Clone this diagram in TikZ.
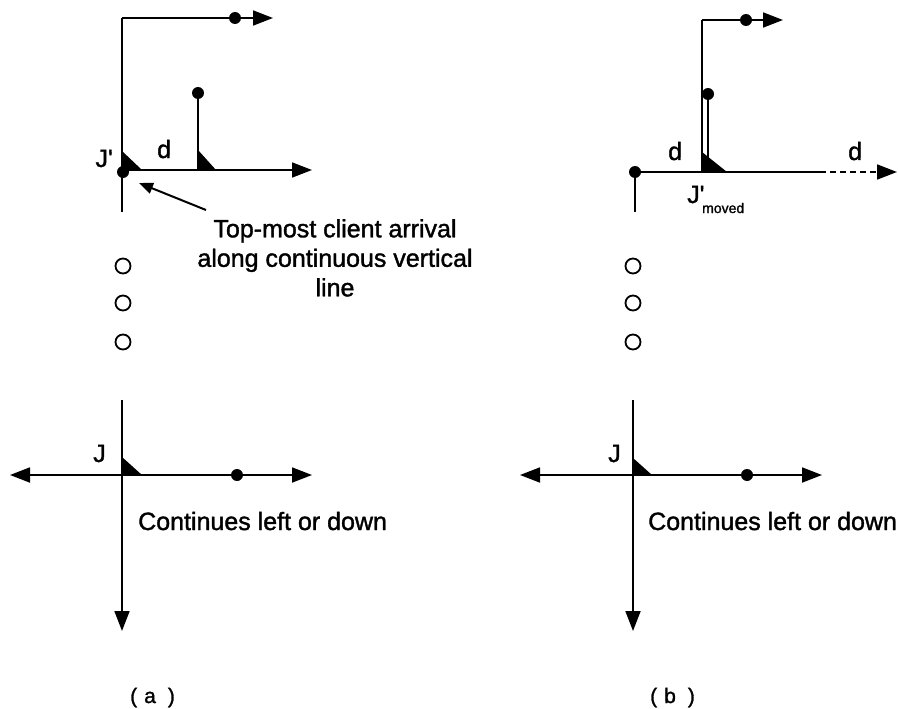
\documentclass[tikz,border=0pt]{standalone}
\usepackage{fontspec}
\setmainfont{Liberation Sans}
\newfontfamily\heavyfont{Liberation Sans}[FakeBold=1.4]
\usetikzlibrary{arrows.meta}
\begin{document}
\begin{tikzpicture}[x=1pt,y=-1pt,
  ln/.style={line width=1.8pt},
  arr/.style={ln,-{Triangle[length=20pt,width=15pt]}},
  darr/.style={ln,{Triangle[length=20pt,width=15pt]}-{Triangle[length=20pt,width=15pt]}},
  pointer/.style={line width=2pt,-{Triangle[length=14pt,width=11pt]}},
  dot/.style={circle,fill=black,inner sep=0pt,minimum size=12pt},
  ring/.style={circle,draw,line width=1.8pt,inner sep=0pt,minimum size=15pt},
  lbl/.style={font=\heavyfont\fontsize{25}{29.5}\selectfont,inner sep=0pt},
  sublbl/.style={font=\heavyfont\fontsize{14}{16}\selectfont,inner sep=0pt},
  captionlbl/.style={font=\heavyfont\fontsize{21}{24}\selectfont,inner sep=0pt},
  marker/.style={fill=black}]
\useasboundingbox (0,0) rectangle (898,709);

% ===================== (a) =====================
\coordinate (aTopL) at (122,18);
\coordinate (aTopR) at (273,18);
\coordinate (aVBot) at (122,212);
\coordinate (aJp) at (122,170);
\coordinate (aHR) at (312,170);
\coordinate (aV2) at (198,170);
\node[dot] (aTopDot) at (235,18) {};
\node[dot] (aV2Dot) at (198,93) {};
\node[dot] (aJpDot) at (123,172) {};

\draw[ln] (aVBot) -- (aTopL);
\draw[arr] (aTopL) -- (aTopR);
\draw[arr] (aJp) -- (aHR);
\draw[ln] (aV2Dot.center) -- (aV2);
\fill[marker] (aJp) -- (122,151) -- (142,170) -- cycle;
\fill[marker] (aV2) -- (198,150) -- (216,170) -- cycle;

\node[lbl,anchor=base east] (aJpLbl) at (113,167) {J'};
\node[lbl,anchor=base west] (aDLbl) at (157,158) {d};

\node[lbl,align=center,anchor=north] (aNote) at (335,219)
  {Top-most client arrival\\along continuous vertical\\line};
\coordinate (aPtrStart) at (206,210);
\draw[pointer] (aPtrStart) -- (139,183);

\node[ring] (aC1) at (123,266) {};
\node[ring] (aC2) at (123,303) {};
\node[ring] (aC3) at (123,342) {};

\coordinate (aBVTop) at (122,400);
\coordinate (aBVBot) at (122,631);
\coordinate (aBL) at (10,475);
\coordinate (aBR) at (312,475);
\coordinate (aJ) at (122,475);
\node[dot] (aBDot) at (237,475) {};
\draw[arr] (aBVTop) -- (aBVBot);
\draw[darr] (aBL) -- (aBR);
\fill[marker] (aJ) -- (122,457) -- (142,475) -- cycle;
\node[lbl,anchor=base west] (aJLbl) at (93,462) {J};
\node[lbl,anchor=base west] (aCont) at (138,530) {Continues left or down};
\node[captionlbl,anchor=base west] (aCap) at (130,703) {(\hspace{7pt}a\hspace{12pt})};

% ===================== (b) =====================
\coordinate (bTopL) at (702,20);
\coordinate (bTopR) at (783,20);
\coordinate (bJm) at (702,172);
\coordinate (bV2) at (708,172);
\coordinate (bSolidEnd) at (820,172);
\coordinate (bHR) at (897,172);
\coordinate (bVDown) at (635,212);
\node[dot] (bTopDot) at (746,20) {};
\node[dot] (bV2Dot) at (708,94) {};
\node[dot] (bLDot) at (635,172) {};

\draw[ln] (bJm) -- (bTopL);
\draw[arr] (bTopL) -- (bTopR);
\draw[ln] (bV2Dot.center) -- (bV2);
\draw[ln] (bLDot.center) -- (bSolidEnd);
\draw[arr,dash pattern=on 6pt off 4pt] (bSolidEnd) -- (bHR);
\draw[ln] (bLDot.center) -- (bVDown);
\fill[marker] (bJm) -- (702,152) -- (727,172) -- cycle;

\node[lbl,anchor=base west] (bDLbl1) at (668,160) {d};
\node[lbl,anchor=base west] (bDLbl2) at (848,160) {d};
\node[lbl,anchor=base west] (bJmLbl) at (687,203) {J'};
\node[sublbl,anchor=base west] (bMoved) at (702,213) {moved};

\node[ring] (bC1) at (633,266) {};
\node[ring] (bC2) at (633,303) {};
\node[ring] (bC3) at (633,342) {};

\coordinate (bBVTop) at (633,400);
\coordinate (bBVBot) at (633,631);
\coordinate (bBL) at (520,475);
\coordinate (bBR) at (822,475);
\coordinate (bJ) at (633,475);
\node[dot] (bBDot) at (747,475) {};
\draw[arr] (bBVTop) -- (bBVBot);
\draw[darr] (bBL) -- (bBR);
\fill[marker] (bJ) -- (633,458) -- (652,475) -- cycle;
\node[lbl,anchor=base west] (bJLbl) at (608,462) {J};
\node[lbl,anchor=base west] (bCont) at (648,530) {Continues left or down};
\node[captionlbl,anchor=base west] (bCap) at (650,703) {(\hspace{7pt}b\hspace{12pt})};
\end{tikzpicture}
\end{document}
